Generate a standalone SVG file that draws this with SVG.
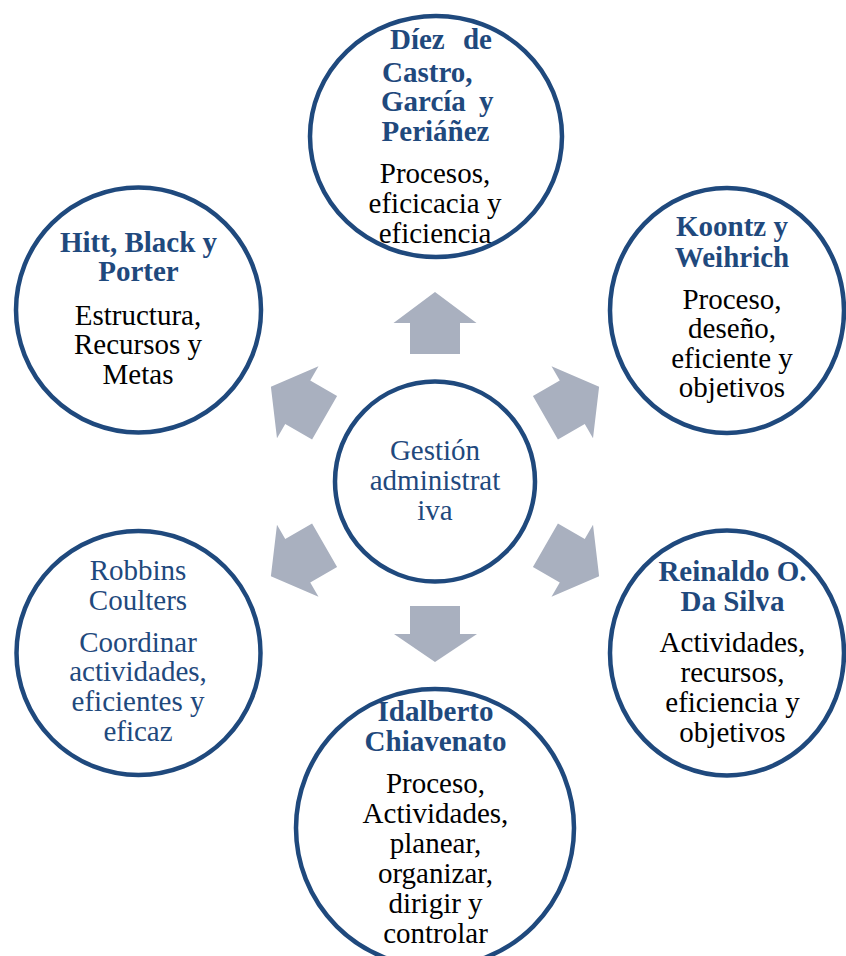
<svg xmlns="http://www.w3.org/2000/svg" width="846" height="956" viewBox="0 0 846 956">
<style>
.ring{fill:#FFFFFF;stroke:#1F497D;stroke-width:4.5}
.arrow{fill:#A9B0BF;stroke:none}
text{font-family:"Liberation Serif","Times New Roman",serif;font-size:29px;text-anchor:middle}
.title{font-weight:bold;fill:#1F497D}
.body{fill:#000000}
.blue{fill:#1F497D}
</style>
<defs>
<polygon id="arr" points="0,-189.5 41.5,-158.5 25,-158.5 25,-127.5 -25,-127.5 -25,-158.5 -41.5,-158.5"/>
</defs>
<rect width="846" height="956" fill="#FFFFFF"/>
<g id="connectors">
<use href="#arr" class="arrow" transform="translate(435,481.5)"/>
<use href="#arr" class="arrow" transform="translate(435,481.5) rotate(60)"/>
<use href="#arr" class="arrow" transform="translate(435,481.5) rotate(120)"/>
<polygon class="arrow" points="410,606 460,606 460,634 477,634 435,662 394,634 410,634"/>
<use href="#arr" class="arrow" transform="translate(435,481.5) rotate(240)"/>
<use href="#arr" class="arrow" transform="translate(435,481.5) rotate(300)"/>
</g>
<g id="center">
<circle class="ring" cx="435" cy="481.5" r="100"/>
<text class="blue" x="435" y="460">Gestión</text>
<text class="blue" x="435" y="490">administrat</text>
<text class="blue" x="435" y="520">iva</text>
</g>
<g id="diez">
<ellipse class="ring" cx="436" cy="136.5" rx="126" ry="120.5"/>
<text class="title" x="441" y="49" word-spacing="11">Díez de</text>
<text class="title" x="382" y="81.5" style="text-anchor:start">Castro,</text>
<text class="title" x="381" y="110.5" style="text-anchor:start" word-spacing="6">García y</text>
<text class="title" x="435.5" y="140.5">Periáñez</text>
<text class="body" x="435" y="183">Procesos,</text>
<text class="body" x="435" y="213">eficicacia y</text>
<text class="body" x="435" y="243">eficiencia</text>
</g>
<g id="koontz">
<ellipse class="ring" cx="727" cy="310.5" rx="117" ry="122.5"/>
<text class="title" x="732" y="236">Koontz y</text>
<text class="title" x="732" y="267">Weihrich</text>
<text class="body" x="732" y="308.5">Proceso,</text>
<text class="body" x="732" y="338">deseño,</text>
<text class="body" x="732" y="367.5">eficiente y</text>
<text class="body" x="732" y="397">objetivos</text>
</g>
<g id="reinaldo">
<ellipse class="ring" cx="727" cy="653" rx="117" ry="122.5"/>
<text class="title" x="732.5" y="581">Reinaldo O.</text>
<text class="title" x="732.5" y="611">Da Silva</text>
<text class="body" x="732.5" y="652">Actividades,</text>
<text class="body" x="732.5" y="682">recursos,</text>
<text class="body" x="732.5" y="712">eficiencia y</text>
<text class="body" x="732.5" y="742">objetivos</text>
</g>
<g id="idalberto">
<circle class="ring" cx="435" cy="828" r="139"/>
<text class="title" x="435.5" y="721">Idalberto</text>
<text class="title" x="435.5" y="751">Chiavenato</text>
<text class="body" x="435.5" y="793">Proceso,</text>
<text class="body" x="435.5" y="823">Actividades,</text>
<text class="body" x="435.5" y="853">planear,</text>
<text class="body" x="435.5" y="883">organizar,</text>
<text class="body" x="435.5" y="913">dirigir y</text>
<text class="body" x="435.5" y="943">controlar</text>
</g>
<g id="robbins">
<circle class="ring" cx="138.5" cy="653" r="122"/>
<text class="blue" x="138" y="580">Robbins</text>
<text class="blue" x="138" y="609.5">Coulters</text>
<text class="blue" x="138" y="652">Coordinar</text>
<text class="blue" x="138" y="681">actividades,</text>
<text class="blue" x="138" y="711">eficientes y</text>
<text class="blue" x="138" y="741">eficaz</text>
</g>
<g id="hitt">
<circle class="ring" cx="138.5" cy="310" r="122.5"/>
<text class="title" x="138.5" y="251.5">Hitt, Black y</text>
<text class="title" x="138.5" y="281">Porter</text>
<text class="body" x="138" y="325">Estructura,</text>
<text class="body" x="138" y="354">Recursos y</text>
<text class="body" x="138" y="383.5">Metas</text>
</g>
</svg>
